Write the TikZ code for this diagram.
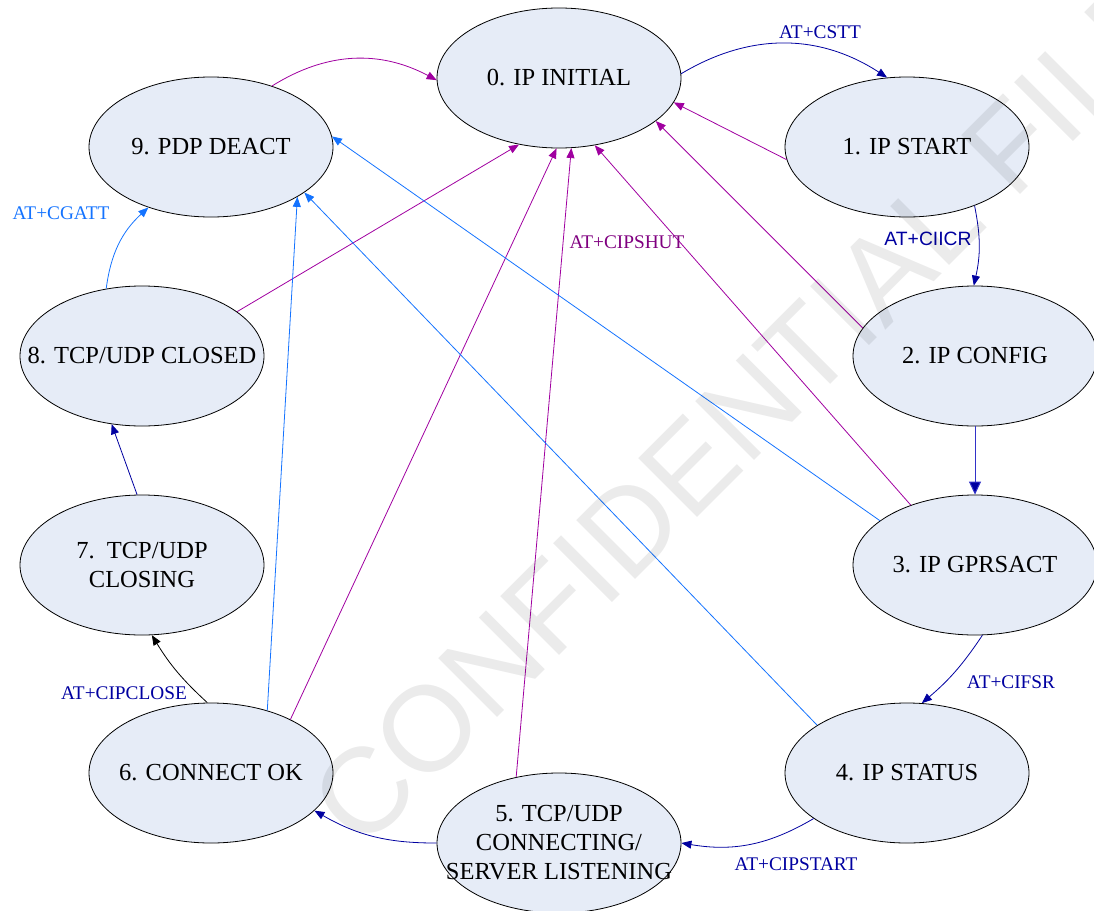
\documentclass[tikz,border=0pt]{standalone}
\usepackage{fontspec}
\setmainfont{Liberation Serif}
\newfontfamily\arialfont{Liberation Sans}
\usetikzlibrary{shapes.geometric,arrows.meta}
\definecolor{stfill}{RGB}{230,236,247}
\definecolor{dblue}{RGB}{0,0,160}
\definecolor{mblue}{RGB}{50,50,200}
\definecolor{lblue}{RGB}{20,115,255}
\definecolor{purp}{RGB}{160,0,160}
\definecolor{purptext}{RGB}{128,0,128}
\tikzset{
  state/.style={ellipse, draw=black, line width=0.8pt, fill=stfill,
    minimum width=244pt, minimum height=140pt, inner sep=0pt},
  stext/.style={font=\fontsize{24.5}{29}\selectfont, align=center, text=black, inner sep=0pt},
  lab/.style={font=\fontsize{19.3}{23}\selectfont, inner sep=0pt},
  tr/.style={-{Triangle[length=10pt,width=8pt]}, line width=0.8pt},
  bigtr/.style={-{Triangle[length=13pt,width=12pt]}, line width=1pt},
  shut/.style={tr, draw=purp},
  deact/.style={tr, draw=lblue},
}
\begin{document}
\begin{tikzpicture}[x=1pt,y=-1pt]
\path[use as bounding box] (0,0) rectangle (1094,910);

% states
\node[state, label={[stext]center:0. IP INITIAL}] (n0) at (559,78) {};
\node[state, label={[stext]center:1. IP START}] (n1) at (907,147) {};
\node[state, label={[stext]center:2. IP CONFIG}] (n2) at (975,356) {};
\node[state, label={[stext]center:3. IP GPRSACT}] (n3) at (975,565) {};
\node[state, label={[stext]center:4. IP STATUS}] (n4) at (907,773) {};
\node[state, label={[stext]center:5. TCP/UDP\\CONNECTING/\\SERVER LISTENING}] (n5) at (559,843) {};
\node[state, label={[stext]center:6. CONNECT OK}] (n6) at (211,773) {};
\node[state, label={[stext]center:7.\ \ TCP/UDP\\CLOSING}] (n7) at (142,565) {};
\node[state, label={[stext]center:8. TCP/UDP CLOSED}] (n8) at (142,356) {};
\node[state, label={[stext]center:9. PDP DEACT}] (n9) at (211,147) {};

% main cycle
\draw[tr, dblue] (n0.2) to[bend left=32] (n1.106);
\draw[tr, dblue] (n1.-41) to[bend left=12] (n2.91);
\draw[bigtr, mblue, -{Triangle[length=13pt,width=12pt,fill=dblue]}] (n2.270) -- (n3.90);
\draw[tr, dblue] (n3.276) to[bend left=8] (n4.78);
\draw[tr, dblue] (n4.206) to[bend left=20] (n5.0);
\draw[tr, dblue] (n5.180) to[bend left=15] (n6.340);
\draw[tr, black] (n6.93) to[bend left=8] (n7.278);
\draw[tr, dblue] (n7.94) -- (n8.246);
\draw[tr, lblue] (n8.118) to[bend left=20] (n9.224);
\draw[tr, purp] (n9.45) to[bend left=30] (n0.181);

% AT+CIPSHUT lines
\draw[shut] (n8.25) -- (n0.239);
\draw[shut] (n6.34) -- (n0.268.5);
\draw[shut] (n5.123.7) -- (n0.280);
\draw[shut] (n3.137.8) -- (n0.298);
\draw[shut] (n2.166) -- (n0.336);
\draw[shut] (n1.186) -- (n0.348.5);

% to PDP DEACT
\draw[deact] (n3.155) -- (n9.5);
\draw[deact] (n4.152) -- (n9.334);
\draw[deact] (n6.48) -- (n9.330.7);

% labels
\node[lab, text=dblue] (lcstt) at (820,32) {AT+CSTT};
\node[lab, text=dblue, font=\arialfont\fontsize{19.3}{23}\selectfont] (lciicr) at (928,239) {AT+CIICR};
\node[lab, text=purptext] (lshut) at (627,242) {AT+CIPSHUT};
\node[lab, text=lblue] (lcgatt) at (61,213) {AT+CGATT};
\node[lab, text=dblue] (lclose) at (124,693) {AT+CIPCLOSE};
\node[lab, text=dblue] (lcifsr) at (1011,682) {AT+CIFSR};
\node[lab, text=dblue] (lstart) at (796,864) {AT+CIPSTART};

% watermark
\begin{scope}
\clip (0,0) rectangle (1094,910);
\node[rotate=45, anchor=base west, inner sep=0pt, text=black, text opacity=0.08,
  font=\arialfont\fontsize{121}{121}\selectfont] (wm) at (362,853) {CONFIDENTIAL FILE};
\end{scope}
\end{tikzpicture}
\end{document}
